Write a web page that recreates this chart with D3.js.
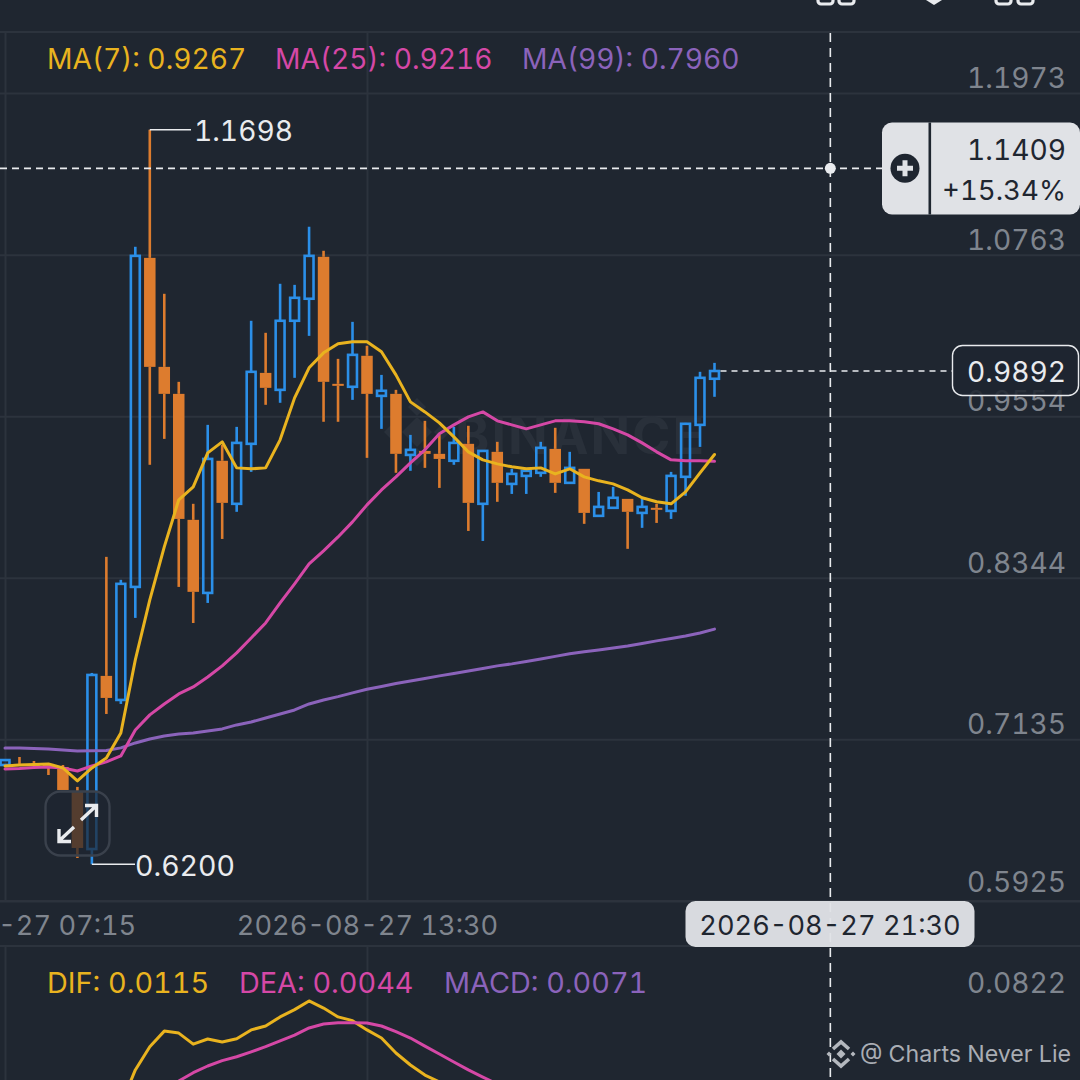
<!DOCTYPE html>
<html><head><meta charset="utf-8">
<script src="https://cdn.jsdelivr.net/npm/d3@7"></script>
<style>html,body{margin:0;padding:0;background:#1f2630}svg{display:block}text{font-family:Inter,sans-serif;font-variant-numeric:tabular-nums;font-feature-settings:"tnum" 1}</style>
</head><body><svg id="c" width="1080" height="1080"></svg>
<script>
const opens=[.6943,.6951,.6951,.6951,.6928,.6741,.6314,.7610,.7430,.8276,1.0739,.9923,.9721,.8778,.8231,.9220,.8898,.9347,.9878,.9751,1.0268,1.0433,1.0747,.9796,.9774,1.0006,.9706,.9721,.9264,.9294,.9272,.9220,.9347,.8898,.9287,.9047,.9107,.9130,.9309,.9055,.9160,.8808,.8868,.8935,.8830,.8868,.8845,.9100,.9489,.9834];
const highs=[.6980,.7003,.6973,.6958,.6943,.6779,.7632,.8501,.8329,1.0822,1.1698,1.0470,.9811,.8898,.9489,.9339,.9474,1.0268,1.0178,1.0545,1.0537,1.0972,1.0792,.9983,1.0260,1.0081,.9863,.9751,.9414,.9519,.9414,.9474,.9482,.9294,.9362,.9160,.9167,.9362,.9467,.9287,.9160,.8987,.9025,.8935,.8950,.8898,.9137,.9504,.9886,.9953];
const lows=[.6943,.6936,.6936,.6868,.6756,.6247,.6200,.7325,.7400,.8044,.9190,.9384,.8276,.8006,.8156,.8635,.8838,.9137,.9639,.9654,.9841,1.0155,.9512,.9512,.9676,.9242,.9459,.9130,.9145,.9167,.9017,.9190,.8695,.8620,.8913,.8972,.8972,.9100,.8980,.9055,.8748,.8800,.8868,.8561,.8718,.8755,.8785,.8958,.9324,.9699];
const closes=[.6980,.6943,.6947,.6943,.6756,.6322,.7617,.7445,.8299,1.0754,.9923,.9721,.8785,.8239,.9234,.8905,.9354,.9886,.9766,1.0268,1.0440,1.0754,.9811,.9781,1.0013,.9721,.9744,.9272,.9302,.9272,.9234,.9354,.8905,.9294,.9055,.9122,.9145,.9317,.9055,.9167,.8830,.8875,.8943,.8838,.8875,.8853,.9107,.9497,.9841,.9892];
const ma7=[.6936,.6943,.6947,.6951,.6921,.6824,.6921,.6996,.7183,.7730,.8179,.8576,.8928,.9025,.9279,.9362,.9167,.9160,.9167,.9377,.9691,.9916,1.0028,1.0096,1.0111,1.0111,1.0036,.9863,.9661,.9586,.9504,.9399,.9287,.9227,.9197,.9175,.9160,.9167,.9122,.9160,.9100,.9070,.9047,.9002,.8943,.8913,.8898,.8987,.9130,.9267];
const ma25=[.6913,.6917,.6925,.6928,.6921,.6898,.6936,.6966,.7011,.7205,.7318,.7400,.7475,.7527,.7602,.7685,.7782,.7894,.8006,.8156,.8299,.8448,.8546,.8650,.8763,.8890,.9002,.9100,.9204,.9302,.9422,.9489,.9549,.9586,.9519,.9489,.9459,.9489,.9519,.9519,.9512,.9497,.9459,.9414,.9354,.9287,.9227,.9220,.9220,.9216];
const ma99=[.7071,.7071,.7067,.7063,.7056,.7048,.7050,.7052,.7071,.7108,.7138,.7160,.7175,.7183,.7198,.7213,.7243,.7265,.7295,.7325,.7355,.7400,.7430,.7455,.7483,.7510,.7531,.7553,.7572,.7591,.7610,.7628,.7647,.7666,.7685,.7700,.7718,.7737,.7756,.7775,.7790,.7804,.7819,.7834,.7853,.7872,.7890,.7909,.7931,.7960];
const dif=[null,null,null,null,null,null,null,null,.0279,.0457,.0575,.0654,.0644,.0588,.0614,.0599,.0615,.0660,.0680,.0726,.0763,.0807,.0771,.0726,.0707,.0660,.0619,.0543,.0482,.0431,.0396];
const dea=[null,null,null,null,null,null,null,null,null,null,null,.0330,.0401,.0443,.0477,.0504,.0524,.0549,.0575,.0604,.0634,.0670,.0690,.0697,.0697,.0695,.0680,.0651,.0619,.0578,.0538,.0497,.0457,.0421,.0385];
const priceTicks=[1.1973,1.0763,.9554,.8344,.7135,.5925];
const timeTicks=[0,25];
const timeLabels=["2026-08-27 07:15","2026-08-27 13:30"];
const macdTicks=[.0822];
const lastPrice=.9892, crossPrice=1.1409, crossIndex=57;
const maxPrice=1.1698, minPrice=.6200;

const C={bg:"#1f2630",grid:"#2c333d",up:"#2b8fe8",down:"#dd7c2e",yel:"#e9b31f",pink:"#d548a6",pur:"#8b63bb",axis:"#7f858e",white:"#e9ebee",tag:"#e0e2e6",dark:"#1f2630"};
const svg=d3.select("#c");
svg.append("rect").attr("width",1080).attr("height",1080).attr("fill",C.bg);
const clip=svg.append("defs").append("clipPath").attr("id","lower").append("rect").attr("x",0).attr("y",947).attr("width",1080).attr("height",133);

const x=d3.scaleLinear().domain([0,49]).range([5,714.5]);
const y=d3.scaleLinear().domain([.5925,1.1973]).range([901,93]);
const y2=d3.scaleLinear().domain([0,.0822]).range([1160,998]);

/* frame lines */
[32,901,946].forEach(v=>svg.append("line").attr("x1",0).attr("x2",1080).attr("y1",v).attr("y2",v).attr("stroke",C.grid).attr("stroke-width",2));

/* time axis and vertical grid */
const xAxis=svg.append("g").attr("transform","translate(0,901)")
  .call(d3.axisBottom(x).tickValues(timeTicks).tickSize(-868).tickFormat((d,i)=>timeLabels[i]));
xAxis.select(".domain").remove();
xAxis.selectAll("line").attr("stroke",C.grid).attr("stroke-width",2);
xAxis.selectAll("text").attr("y",34).attr("dy",0).attr("fill",C.axis).attr("font-size",27.2).attr("font-family","Inter,sans-serif");
const xAxisL=svg.append("g").attr("transform","translate(0,946)")
  .call(d3.axisBottom(x).tickValues(timeTicks).tickSize(134).tickFormat(""));
xAxisL.select(".domain").remove();
xAxisL.selectAll("line").attr("stroke",C.grid).attr("stroke-width",2);

/* price axis */
const yAxis=svg.append("g").attr("transform","translate(1080,0)")
  .call(d3.axisLeft(y).tickValues(priceTicks).tickSize(1080).tickFormat(d3.format(".4f")));
yAxis.select(".domain").remove();
yAxis.selectAll("line").attr("stroke",C.grid).attr("stroke-width",2);
yAxis.selectAll("text").attr("x",-14).attr("dy",0).attr("y",d=>d===.5925?-9.5:-5.5).attr("fill",C.axis).attr("font-size",28.2).attr("font-family","Inter,sans-serif");

/* macd axis */
const y2Axis=svg.append("g").attr("transform","translate(1080,0)")
  .call(d3.axisLeft(y2).tickValues(macdTicks).tickSize(0).tickFormat(d3.format(".4f")));
y2Axis.select(".domain").remove();
y2Axis.selectAll("text").attr("x",-14).attr("dy",0).attr("y",-5.5).attr("fill",C.axis).attr("font-size",28.2).attr("font-family","Inter,sans-serif");

/* BINANCE watermark */
const wm=svg.append("g").attr("fill","#29303a");
wm.append("text").attr("x",455).attr("y",454).attr("font-size",52).attr("font-weight",700).attr("letter-spacing",2).text("BINANCE");
[[417,432,15],[392,432,8],[442,432,8],[417,407,9],[417,457,9]].forEach(d=>wm.append("path").attr("d",`M${d[0]-d[2]},${d[1]}L${d[0]},${d[1]-d[2]}L${d[0]+d[2]},${d[1]}L${d[0]},${d[1]+d[2]}Z`));

/* candles */
const candles=opens.map((o,i)=>({i,o,h:highs[i],l:lows[i],c:closes[i]}));
const g=svg.append("g");
const bw=11.5, sw=2.6;
candles.forEach(d=>{
  const up=d.c>=d.o, col=up?C.up:C.down, top=y(Math.max(d.o,d.c)), bot=y(Math.min(d.o,d.c)), cx=x(d.i);
  g.append("line").attr("x1",cx).attr("x2",cx).attr("y1",y(d.h)).attr("y2",top).attr("stroke",col).attr("stroke-width",sw);
  g.append("line").attr("x1",cx).attr("x2",cx).attr("y1",bot).attr("y2",y(d.l)).attr("stroke",col).attr("stroke-width",sw);
  if(up) g.append("rect").attr("x",cx-bw/2+sw/2).attr("y",top).attr("width",bw-sw).attr("height",Math.max(bot-top,1)).attr("fill","none").attr("stroke",col).attr("stroke-width",sw);
  else g.append("rect").attr("x",cx-bw/2).attr("y",top).attr("width",bw).attr("height",Math.max(bot-top,2)).attr("fill",col);
});

/* moving averages */
const mk=(sc)=>d3.line().defined(d=>d!==null).x((d,i)=>x(i)).y(d=>sc(d));
[[ma99,C.pur],[ma25,C.pink],[ma7,C.yel]].forEach(([s,c])=>svg.append("path").attr("d",mk(y)(s)).attr("fill","none").attr("stroke",c).attr("stroke-width",3).attr("stroke-linejoin","round").attr("stroke-linecap","round"));
const lower=svg.append("g").attr("clip-path","url(#lower)");
[[dif,C.yel],[dea,C.pink]].forEach(([s,c])=>lower.append("path").attr("d",mk(y2)(s)).attr("fill","none").attr("stroke",c).attr("stroke-width",3).attr("stroke-linejoin","round"));

/* extremes */
const hi=candles.find(d=>d.h===maxPrice), lo=candles.find(d=>d.l===minPrice);
svg.append("line").attr("x1",x(hi.i)).attr("x2",191).attr("y1",y(maxPrice)).attr("y2",y(maxPrice)).attr("stroke",C.white).attr("stroke-width",1.6);
svg.append("text").attr("x",194).attr("y",y(maxPrice)+11).attr("fill",C.white).attr("font-size",28.2).text(d3.format(".4f")(maxPrice));
svg.append("line").attr("x1",x(lo.i)).attr("x2",135).attr("y1",y(minPrice)).attr("y2",y(minPrice)).attr("stroke",C.white).attr("stroke-width",1.6);
svg.append("text").attr("x",135).attr("y",y(minPrice)+12).attr("fill",C.white).attr("font-size",28.5).text(d3.format(".4f")(minPrice));

/* expand button */
svg.append("rect").attr("x",45.5).attr("y",791.5).attr("width",64).attr("height",64).attr("rx",15).attr("fill",C.bg).attr("fill-opacity",.72).attr("stroke","#3a414c").attr("stroke-width",2.4);
const arrow="M81,820 L96,806 M85,805.5 L96.5,805.5 L96.5,817 M74,827 L59,841 M59,829 L59,841.5 L71,841.5";
svg.append("path").attr("d",arrow).attr("fill","none").attr("stroke",C.white).attr("stroke-width",3.4);

/* last price line and tag */
const lp=y(lastPrice);
svg.append("line").attr("x1",x(49)+6).attr("x2",952).attr("y1",lp).attr("y2",lp).attr("stroke",C.white).attr("stroke-width",1.6).attr("stroke-dasharray","6 5");
svg.append("rect").attr("x",952.5).attr("y",345.5).attr("width",126).attr("height",50).attr("rx",10).attr("fill",C.bg).attr("fill-opacity",.88).attr("stroke",C.white).attr("stroke-width",1.4);
svg.append("text").attr("x",1066).attr("y",382).attr("text-anchor","end").attr("fill",C.white).attr("font-size",28.2).text(d3.format(".4f")(lastPrice));

/* crosshair */
const cy=y(crossPrice), cx=x(crossIndex);
svg.append("line").attr("x1",0).attr("x2",882).attr("y1",cy).attr("y2",cy).attr("stroke",C.white).attr("stroke-width",1.6).attr("stroke-dasharray","7 5");
svg.append("line").attr("x1",cx).attr("x2",cx).attr("y1",33).attr("y2",1080).attr("stroke",C.white).attr("stroke-width",1.6).attr("stroke-dasharray","9 6");
svg.append("circle").attr("cx",cx).attr("cy",cy).attr("r",5.5).attr("fill",C.white);

/* crosshair price tag */
svg.append("rect").attr("x",882).attr("y",122.5).attr("width",198).attr("height",92).attr("rx",10).attr("fill",C.tag);
svg.append("rect").attr("x",928.5).attr("y",122.5).attr("width",2.6).attr("height",92).attr("fill",C.dark);
svg.append("circle").attr("cx",905).attr("cy",cy).attr("r",14.5).attr("fill",C.dark);
svg.append("path").attr("d",`M905,${cy-8}V${cy+8}M897,${cy}H913`).attr("stroke",C.tag).attr("stroke-width",5);
svg.append("text").attr("x",1066).attr("y",160).attr("text-anchor","end").attr("fill",C.dark).attr("font-size",28.2).text(d3.format(".4f")(crossPrice));
svg.append("text").attr("x",1066).attr("y",200).attr("text-anchor","end").attr("fill",C.dark).attr("font-size",27.6).text("+15.34%");

/* crosshair date tag */
svg.append("rect").attr("x",685.5).attr("y",901).attr("width",289).attr("height",46).attr("rx",10).attr("fill",C.tag).attr("fill-opacity",.96);
svg.append("text").attr("x",830).attr("y",935).attr("text-anchor","middle").attr("fill",C.dark).attr("font-size",27.2).text("2026-08-27 21:30");

/* legends */
const legend=(arr,yy,fs)=>arr.forEach(([t,xx,c])=>svg.append("text").attr("x",xx).attr("y",yy).attr("fill",c).attr("font-size",fs).text(t));
legend([["MA(7): 0.9267",47,C.yel],["MA(25): 0.9216",275,C.pink],["MA(99): 0.7960",522,C.pur]],69,28.2);
legend([["DIF: 0.0115",47,C.yel],["DEA: 0.0044",239,C.pink],["MACD: 0.0071",444,C.pur]],993,28.8);

/* brand mark */
const bm=svg.append("g").attr("fill","none").attr("stroke","#b4b8be").attr("stroke-width",3.6);
bm.append("path").attr("d","M833,1049L841,1042L849,1049M833,1059L841,1066L849,1059");
bm.append("path").attr("d","M841,1049.5L845.5,1054L841,1058.5L836.5,1054Z").attr("fill","#b4b8be").attr("stroke","none");
bm.append("path").attr("d","M829,1051.5L831.5,1054L829,1056.5L826.5,1054ZM853,1051.5L855.5,1054L853,1056.5L850.5,1054Z").attr("fill","#b4b8be").attr("stroke","none");
svg.append("text").attr("x",860).attr("y",1062).attr("fill","#a9adb4").attr("font-size",23.2).attr("font-family","'Noto Sans',sans-serif").text("@ Charts Never Lie");

/* top toolbar remnants */
const tb=svg.append("g").attr("fill","none").attr("stroke",C.white).attr("stroke-width",3.2);
[818,839,996,1018].forEach(v=>tb.append("rect").attr("x",v).attr("y",-20).attr("width",15).attr("height",24).attr("rx",3));
svg.append("path").attr("d","M926,0L934,5L942,0Z").attr("fill",C.white);
</script></body></html>
